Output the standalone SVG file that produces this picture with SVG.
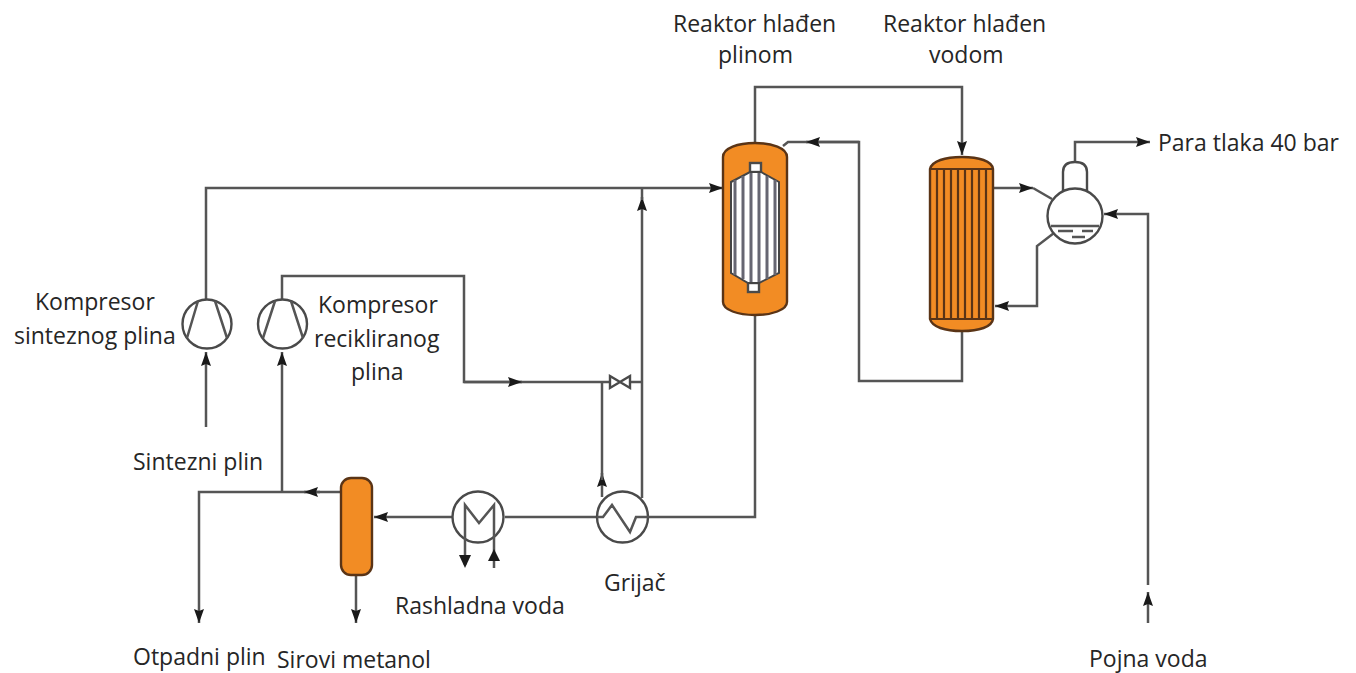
<svg xmlns="http://www.w3.org/2000/svg" width="1356" height="673" viewBox="0 0 1356 673">
<defs>
<marker id="ah" markerUnits="userSpaceOnUse" markerWidth="15" markerHeight="12" refX="14" refY="6" orient="auto"><path d="M0,1 L14,6 L0,11 L2,6 Z" fill="#1a1a1a"/></marker>
<marker id="am" markerUnits="userSpaceOnUse" markerWidth="15" markerHeight="12" refX="14" refY="6" orient="auto"><path d="M0,1 L14,6 L0,11 L2,6 Z" fill="#1a1a1a"/></marker>
</defs>
<style>
text{font-family:"Open Sans","Liberation Sans",sans-serif;font-size:23px;fill:#262626}
.l{fill:none;stroke:#555;stroke-width:2.5}
.o{fill:#f28c24;stroke:#5a3416;stroke-width:2.4}
.w{fill:#fff;stroke:#4a4a4a;stroke-width:2.4}
.t{stroke:#5a3416;stroke-width:2.2;fill:none}
.g{stroke:#666672;stroke-width:3;fill:none}
</style>
<rect width="1356" height="673" fill="#fff"/>
<g id="connectors">
<path class="l" d="M206,300 V188 H723" marker-end="url(#ah)"/>
<path class="l" d="M206,427 V352" marker-end="url(#ah)"/>
<path class="l" d="M282,300 V276 H464 V382 H610"/>
<path class="l" d="M464,382 H522" marker-end="url(#am)"/>
<path class="l" d="M630,382 H642"/>
<path class="l" d="M602,497 V473" marker-end="url(#am)"/>
<path class="l" d="M602,480 V382"/>
<path class="l" d="M642,498 V197" marker-end="url(#am)"/>
<path class="l" d="M642,200 V188"/>
<path class="l" d="M755,143 V87 H962 V155" marker-end="url(#ah)"/>
<path class="l" d="M755,315 V517 H649"/>
<path class="l" d="M596,517 H505"/>
<path class="l" d="M453,517 H374" marker-end="url(#ah)"/>
<path class="l" d="M341,492 H199 V623" marker-end="url(#ah)"/>
<path class="l" d="M282,492 V352" marker-end="url(#ah)"/>
<path class="l" d="M320,492 H304" marker-end="url(#am)"/>
<path class="l" d="M356,575 V623" marker-end="url(#ah)"/>
<path class="l" d="M962,330 V381 H859 V142 H788 L783,146"/>
<path class="l" d="M859,142 H806" marker-end="url(#am)"/>
<path class="l" d="M993,188 H1033" marker-end="url(#am)"/>
<path class="l" d="M1033,188 L1052,199"/>
<path class="l" d="M1054,233 L1037,246 V306 H995" marker-end="url(#ah)"/>
<path class="l" d="M1075,162 V142 H1150" marker-end="url(#ah)"/>
<path class="l" d="M1148,585 V214 H1104" marker-end="url(#ah)"/>
<path class="l" d="M1148,623 V592" marker-end="url(#ah)"/>
</g>
<g id="kompresor-sinteznog"><circle class="w" cx="207" cy="324" r="24.500"/><path class="l" d="M198,301 L187,338 M215,301 L227,338"/></g>
<g id="kompresor-recikliranog"><circle class="w" cx="282.500" cy="324" r="24.500"/><path class="l" d="M275,301 L263,338 M291,301 L303,338"/></g>
<g id="ventil"><path class="w" d="M610,376 L620,382 L610,388 Z M630,376 L620,382 L630,388 Z"/></g>
<g id="separator"><rect class="o" x="341" y="478" width="31" height="97" rx="10"/></g>
<g id="hladnjak"><circle class="w" cx="478" cy="517" r="25.500"/><path class="l" d="M465,565 V505 L479,523 L494,505 V568" /><path d="M459,555 h12 l-6,13 z" fill="#1a1a1a"/><path d="M488,561 h12 l-6,-12 z" fill="#1a1a1a"/></g>
<g id="grijac"><circle class="w" cx="622.500" cy="517" r="25.500"/><path class="l" d="M597,517 H603 L612,505 L630,532 L636,517 H649"/></g>
<g id="reaktor-plinom">
<path class="o" d="M723,157 C723,148 738,143 755,143 C772,143 787,148 787,157 V302 C787,310 772,315 755,315 C738,315 723,310 723,302 Z"/>
<rect class="w" x="750" y="163" width="11" height="9"/>
<rect class="w" x="748" y="283" width="11" height="9"/>
<path d="M731,182 L750,172 H761 L779,182 V273 L759,283 H748 L731,273 Z" fill="#fff" stroke="#444" stroke-width="2"/>
<path class="g" d="M735,180 V275 M743,176 V279 M751,173 V282 M759,173 V282 M767,176 V279 M775,180 V275"/>
</g>
<g id="reaktor-vodom">
<path class="o" d="M930,169 C932,161 945,157 962,157 C979,157 992,161 993,169 V319 C992,327 979,331 962,331 C945,331 932,327 930,319 Z"/>
<path class="t" d="M930,169 H993 M930,319 H993 M937,169 V319 M944,169 V319 M951,169 V319 M958,169 V319 M965,169 V319 M972,169 V319 M979,169 V319 M986,169 V319"/>
</g>
<g id="bubanj">
<path class="w" d="M1063,191 V172 Q1063,162 1075,162 Q1087,162 1087,172 V191"/>
<circle class="w" cx="1075" cy="216" r="27.500"/>
<path class="l" d="M1051,226 H1099 M1058,231 H1073 M1082,231 H1093 M1072,237 H1085"/>
</g>
<g id="labels">
<text x="673" y="32">Reaktor hlađen</text><text x="718" y="63">plinom</text>
<text x="883" y="32">Reaktor hlađen</text><text x="929" y="63">vodom</text>
<text x="1158" y="151">Para tlaka 40 bar</text>
<text x="35" y="310">Kompresor</text><text x="14" y="344">sinteznog plina</text>
<text x="318" y="313">Kompresor</text><text x="314" y="347">recikliranog</text><text x="351" y="380">plina</text>
<text x="133" y="470">Sintezni plin</text>
<text x="395" y="614">Rashladna voda</text>
<text x="604" y="591">Grijač</text>
<text x="133" y="665">Otpadni plin</text>
<text x="277" y="668">Sirovi metanol</text>
<text x="1089" y="667">Pojna voda</text>
</g>
</svg>
